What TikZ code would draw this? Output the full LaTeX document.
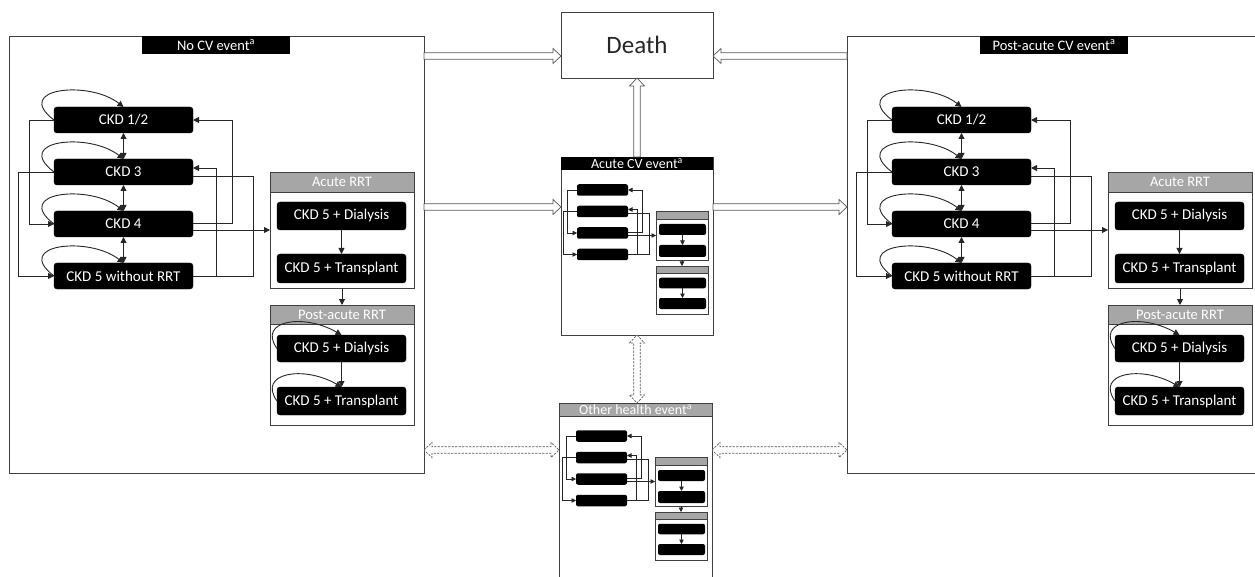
\documentclass[tikz,border=0pt]{standalone}
\usepackage{fontspec}
\setmainfont{Carlito}
\usetikzlibrary{arrows.meta,calc}
\tikzset{
  >={Triangle[length=6pt,width=6pt]},
  panel/.style={draw=black!75, line width=0.8pt, fill=white, inner sep=0pt, outer sep=0pt},
  ckd/.style={fill=black, draw=black, rounded corners=3pt, text=white, inner sep=0pt, outer sep=0pt,
    minimum width=139pt, minimum height=26pt, font=\fontsize{15}{17}\selectfont},
  titlebar/.style={fill=black, text=white, inner sep=0pt, outer sep=0pt, font=\fontsize{14.5}{16}\selectfont},
  rrtbox/.style={draw=black!75, line width=0.8pt, fill=white, inner sep=0pt, outer sep=0pt},
  rrthead/.style={fill=black!35, draw=black!75, line width=0.8pt, text=white, inner sep=0pt, outer sep=0pt,
    font=\fontsize{14.5}{16}\selectfont},
  conn/.style={draw=black!85, line width=0.9pt},
  selfloop/.style={to path={.. controls +(-42,-32) and +(-34,-27) .. (\tikztotarget)}},
  smallloop/.style={to path={.. controls +(-20,-28) and +(-38,-22) .. (\tikztotarget)}},
  minibox/.style={fill=black, rounded corners=2pt, inner sep=0pt, outer sep=0pt, minimum width=51pt, minimum height=11.5pt},
  minirrt/.style={draw=black!75, line width=0.6pt, fill=white, inner sep=0pt, outer sep=0pt, minimum width=52pt},
  minihead/.style={fill=black!35, draw=black!75, line width=0.6pt, inner sep=0pt, outer sep=0pt, minimum width=52pt, anchor=north},
  miniconn/.style={draw=black!85, line width=0.7pt, >={Triangle[length=4.5pt,width=4.5pt]}},
  blockarrow/.style={draw=black!65, fill=white, line width=0.7pt, to path={
    let \p1=(\tikztostart), \p2=(\tikztotarget),
        \n1={veclen(\x2-\x1,\y2-\y1)},
        \n2={(\x2-\x1)/\n1}, \n3={(\y2-\y1)/\n1}
    in ({\x1-3.2*\n3},{\y1+3.2*\n2})
    -- ({\x2-8*\n2-3.2*\n3},{\y2-8*\n3+3.2*\n2})
    -- ({\x2-8*\n2-7.5*\n3},{\y2-8*\n3+7.5*\n2})
    -- (\x2,\y2)
    -- ({\x2-8*\n2+7.5*\n3},{\y2-8*\n3-7.5*\n2})
    -- ({\x2-8*\n2+3.2*\n3},{\y2-8*\n3-3.2*\n2})
    -- ({\x1+3.2*\n3},{\y1-3.2*\n2}) -- cycle}},
  blockarrowdbl/.style={draw=black!65, fill=white, line width=0.7pt, dash pattern=on 2.2pt off 1.3pt, to path={
    let \p1=(\tikztostart), \p2=(\tikztotarget),
        \n1={veclen(\x2-\x1,\y2-\y1)},
        \n2={(\x2-\x1)/\n1}, \n3={(\y2-\y1)/\n1}
    in (\x1,\y1)
    -- ({\x1+8*\n2-7.5*\n3},{\y1+8*\n3+7.5*\n2})
    -- ({\x1+8*\n2-3.2*\n3},{\y1+8*\n3+3.2*\n2})
    -- ({\x2-8*\n2-3.2*\n3},{\y2-8*\n3+3.2*\n2})
    -- ({\x2-8*\n2-7.5*\n3},{\y2-8*\n3+7.5*\n2})
    -- (\x2,\y2)
    -- ({\x2-8*\n2+7.5*\n3},{\y2-8*\n3-7.5*\n2})
    -- ({\x2-8*\n2+3.2*\n3},{\y2-8*\n3-3.2*\n2})
    -- ({\x1+8*\n2+3.2*\n3},{\y1+8*\n3-3.2*\n2})
    -- ({\x1+8*\n2+7.5*\n3},{\y1+8*\n3-7.5*\n2})
    -- cycle}},
}
\newcommand\ckdpanel[3]{%
\begin{scope}[xshift=#2]
\node[panel, minimum width=415, minimum height=437] (#1) at (216.5,254.5) {};
\node[titlebar, minimum width=148, minimum height=18] (#1t) at (216,45) {#3};
\node[ckd] (#1k12) at (123.5,120) {CKD 1/2};
\node[ckd] (#1k3) at (123.5,172) {CKD 3};
\node[ckd] (#1k4) at (123.5,224) {CKD 4};
\node[ckd] (#1k5) at (123.5,276) {CKD 5 without RRT};
\node[rrtbox, minimum width=144, minimum height=116] (#1ra) at (342,230) {};
\node[rrthead, minimum width=144, minimum height=20, anchor=north] (#1rah) at (#1ra.north) {Acute RRT};
\node[ckd, minimum width=129, minimum height=28] (#1rad) at (341.5,216) {CKD 5 + Dialysis};
\node[ckd, minimum width=129, minimum height=29] (#1rat) at (341.5,268.5) {CKD 5 + Transplant};
\node[rrtbox, minimum width=144, minimum height=120] (#1rp) at (342,365) {};
\node[rrthead, minimum width=144, minimum height=19, anchor=north] (#1rph) at (#1rp.north) {Post-acute RRT};
\node[ckd, minimum width=129, minimum height=27] (#1rpd) at (341.5,348.5) {CKD 5 + Dialysis};
\node[ckd, minimum width=129, minimum height=28] (#1rpt) at (341.5,401) {CKD 5 + Transplant};
\foreach \k in {k12,k3,k4,k5}{\draw[conn,->] (#1\k.west) to[selfloop] (#1\k.north);}
\draw[conn,<->] (#1k12.south) -- (#1k3.north);
\draw[conn,<->] (#1k3.south) -- (#1k4.north);
\draw[conn,<->] (#1k4.south) -- (#1k5.north);
\draw[conn,->] (#1k12.west) -- ++(-25,0) |- (#1k4.west);
\draw[conn,->] (#1k3.west) -- ++(-36,0) |- (#1k5.west);
\draw[conn,->] ($(#1k4.east)+(0,-1)$) -- ++(39,0) |- (#1k12.east);
\draw[conn,->] (#1k5.east) -- ++(23,0) |- ($(#1k3.east)+(0,-4)$);
\draw[conn] ($(#1k3.east)+(0,4)$) -- ++(60,0) |- (#1k5.east);
\draw[conn,->] ($(#1k4.east)+(0,6)$) -- (#1ra.west);
\draw[conn,->] (#1rad) -- (#1rat);
\draw[conn,->] (#1ra.south) -- (#1rp.north);
\draw[conn,->] (#1rpd) -- (#1rpt);
\draw[conn,->] (#1rpd.west) to[smallloop] (#1rpd.north);
\draw[conn,->] (#1rpt.west) to[smallloop] (#1rpt.north);
\end{scope}}
\newcommand\minidiag[3]{%
\begin{scope}[shift={(#2,#3)}]
\node[minibox] (#1m1) at (41.5,33) {};
\node[minibox] (#1m2) at (41.5,54.5) {};
\node[minibox] (#1m3) at (41.5,76) {};
\node[minibox] (#1m4) at (41.5,97.5) {};
\node[minirrt, minimum height=49pt] (#1r1) at (121,78.5) {};
\node[minihead, minimum height=8pt] (#1h1) at (#1r1.north) {};
\node[minibox, minimum width=47pt, minimum height=11pt] (#1b1) at (121.5,72.5) {};
\node[minibox, minimum width=47pt, minimum height=12pt] (#1b2) at (121.5,94) {};
\node[minirrt, minimum height=48pt] (#1r2) at (121,133) {};
\node[minihead, minimum height=7pt] (#1h2) at (#1r2.north) {};
\node[minibox, minimum width=47pt, minimum height=10.5pt] (#1b3) at (121.5,126) {};
\node[minibox, minimum width=47pt, minimum height=11pt] (#1b4) at (121.5,146.5) {};
\draw[miniconn,->] (#1m1.west) -- ++(-10,0) |- (#1m3.west);
\draw[miniconn,->] (#1m2.west) -- ++(-14,0) |- (#1m4.west);
\draw[miniconn,->] ($(#1m3.east)+(0,-1)$) -- ++(14,0) |- (#1m1.east);
\draw[miniconn,->] (#1m4.east) -- ++(9,0) |- ($(#1m2.east)+(0,-2)$);
\draw[miniconn] ($(#1m2.east)+(0,2)$) -- ++(21,0) |- (#1m4.east);
\draw[miniconn,->] ($(#1m3.east)+(0,2.5)$) -- (#1r1.west);
\draw[miniconn,->] (#1b1) -- (#1b2);
\draw[miniconn,->] (#1r1) -- (#1r2);
\draw[miniconn,->] (#1b3) -- (#1b4);
\end{scope}}
\begin{document}
\begin{tikzpicture}[x=1pt,y=-1pt]
\useasboundingbox (0,0) rectangle (1255,577);
\ckdpanel{nocv}{0}{No CV event\textsuperscript{a}}
\ckdpanel{pacv}{838}{Post-acute CV event\textsuperscript{a}}
\node[panel, minimum width=152, minimum height=66, font=\fontsize{25}{29}\selectfont, text=black!85] (death) at (637,45) {Death};
\node[panel, minimum width=152, minimum height=178] (acv) at (637,246) {};
\node[titlebar, minimum width=152, minimum height=13, anchor=north, font=\fontsize{14}{14}\selectfont] (acvh) at (acv.north) {Acute CV event\textsuperscript{a}};
\minidiag{acv}{561}{157}
\node[panel, minimum width=153, minimum height=192] (oth) at (635.5,499) {};
\node[rrthead, minimum width=153, minimum height=13, anchor=north, font=\fontsize{14}{14}\selectfont] (othh) at (oth.north) {Other health event\textsuperscript{a}};
\minidiag{oth}{560}{403}
\coordinate (yA) at (0,56);
\coordinate (yB) at (0,207);
\coordinate (yC) at (0,450);
\draw[blockarrow] (nocv.east |- yA) to (death.west |- yA);
\draw[blockarrow] (pacv.west |- yA) to (death.east |- yA);
\draw[blockarrow] (acv.north) to (death.south);
\draw[blockarrow] (nocv.east |- yB) to (acv.west |- yB);
\draw[blockarrow] (acv.east |- yB) to (pacv.west |- yB);
\draw[blockarrowdbl] (acv.south) to (acv.south |- oth.north);
\draw[blockarrowdbl] (nocv.east |- yC) to (oth.west |- yC);
\draw[blockarrowdbl] (oth.east |- yC) to (pacv.west |- yC);
\end{tikzpicture}
\end{document}
